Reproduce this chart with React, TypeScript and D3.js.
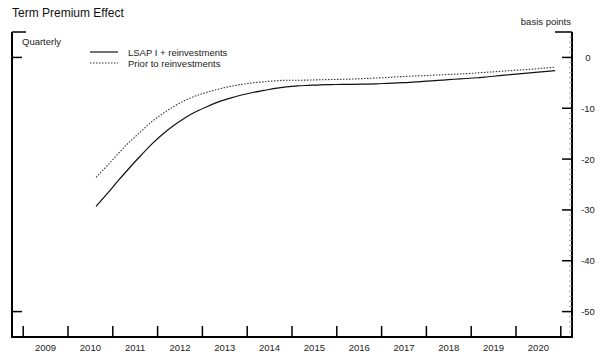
import React from "react";
import * as d3 from "d3";

const title = "Term Premium Effect";
const unitLabel = "basis points";
const freqLabel = "Quarterly";
const seriesNames = ["LSAP I + reinvestments", "Prior to reinvestments"];
const years = [2009, 2010, 2011, 2012, 2013, 2014, 2015, 2016, 2017, 2018, 2019, 2020];
const yTicks = [0, -10, -20, -30, -40, -50];
const startYear = 2010;
const startQuarter = 3;

const lsapReinv = [
  -29.3, -26.8,
  -24.2, -21.7, -19.3, -17.0,
  -15.0, -13.3, -11.8, -10.6,
  -9.6, -8.7, -8.0, -7.4,
  -6.9, -6.5, -6.1, -5.8,
  -5.6, -5.5, -5.4, -5.35,
  -5.3, -5.3, -5.25, -5.2,
  -5.1, -5.0, -4.9, -4.75,
  -4.6, -4.45, -4.3, -4.15,
  -4.0, -3.8, -3.6, -3.4,
  -3.2, -3.0, -2.8, -2.6,
];
const priorReinv = [
  -23.6, -21.3,
  -18.9, -16.6, -14.6, -12.6,
  -11.0, -9.6, -8.4, -7.5,
  -6.8, -6.2, -5.7, -5.3,
  -5.0, -4.8, -4.6, -4.5,
  -4.5, -4.45, -4.4, -4.35,
  -4.3, -4.25, -4.15, -4.05,
  -3.95, -3.8, -3.7, -3.6,
  -3.5, -3.4, -3.3, -3.2,
  -3.05, -2.9, -2.75, -2.6,
  -2.45, -2.3, -2.1, -1.9,
];

const W = 600;
const H = 355;
const left = 12;
const right = 572;
const top = 32;
const bottom = 337;

export default function App() {
  const x = d3.scaleLinear().domain([2008.75, 2021.25]).range([left, right]);
  const y = d3.scaleLinear().domain([5, -55]).range([top, bottom]);
  const toT = (i: number) => startYear + (startQuarter - 1) / 4 + i / 4 + 0.125;
  const line = d3
    .line<number>()
    .x((_, i) => x(toT(i)))
    .y((d) => y(d))
    .curve(d3.curveMonotoneX);
  const font = "Arial, 'Liberation Sans', sans-serif";
  const minor = d3.range(4, -55, -1).filter((v) => v % 10 !== 0);
  const yearTicks = [...years, years[years.length - 1] + 1];

  return (
    <svg width={W} height={H} style={{ position: "absolute", left: 0, top: 0 }} fontFamily={font}>
      <rect width={W} height={H} fill="#fff" />
      <text x={12} y={17} fontSize={12} fill="#111">{title}</text>
      <text x={571} y={25} fontSize={9.5} fill="#222" textAnchor="end">{unitLabel}</text>
      <text x={22} y={45} fontSize={9.5} fill="#222">{freqLabel}</text>

      {/* axes frame */}
      <g stroke="#000" strokeWidth={2} fill="none">
        <line x1={left} y1={top} x2={left} y2={bottom + 1} />
        <line x1={right} y1={top} x2={right} y2={bottom + 1} />
        <line x1={left - 1} y1={bottom} x2={right + 1} y2={bottom} />
        <line x1={left} y1={top} x2={left + 14} y2={top} strokeWidth={1.5} />
        <line x1={right - 17} y1={top} x2={right} y2={top} strokeWidth={1.5} />
        <line x1={left} y1={y(0)} x2={left + 10} y2={y(0)} strokeWidth={1.5} />
        <line x1={left} y1={y(-50)} x2={left + 10} y2={y(-50)} strokeWidth={1.5} />
      </g>

      {/* right axis ticks */}
      <g>
        {minor.map((v) => (
          <line key={"m" + v} x1={right - 3} x2={right} y1={y(v)} y2={y(v)} stroke="#888" strokeWidth={0.8} />
        ))}
        {yTicks.map((v) => (
          <g key={v}>
            <line x1={right - 10} x2={right} y1={y(v)} y2={y(v)} stroke="#000" strokeWidth={1.5} />
            <text x={588} y={y(v) + 3.5} fontSize={9.5} fill="#222" textAnchor="middle">{v}</text>
          </g>
        ))}
      </g>

      {/* bottom axis ticks */}
      <g>
        {yearTicks.map((yr) => (
          <line key={yr} x1={x(yr)} x2={x(yr)} y1={bottom - 11} y2={bottom} stroke="#000" strokeWidth={1.5} />
        ))}
        {years.map((yr) => (
          <text key={"l" + yr} x={x(yr + 0.5)} y={351} fontSize={9.5} fill="#222" textAnchor="middle">{yr}</text>
        ))}
      </g>

      {/* series */}
      <path d={line(priorReinv) || ""} fill="none" stroke="#333" strokeWidth={1.1} strokeDasharray="1.5,1.5" />
      <path d={line(lsapReinv) || ""} fill="none" stroke="#111" strokeWidth={1.2} />

      {/* legend */}
      <line x1={90} x2={118} y1={52} y2={52} stroke="#111" strokeWidth={1.2} />
      <line x1={90} x2={118} y1={63} y2={63} stroke="#333" strokeWidth={1.1} strokeDasharray="1.5,1.5" />
      <text x={128} y={55.5} fontSize={9.5} fill="#222">{seriesNames[0]}</text>
      <text x={128} y={66.5} fontSize={9.5} fill="#222">{seriesNames[1]}</text>
    </svg>
  );
}
